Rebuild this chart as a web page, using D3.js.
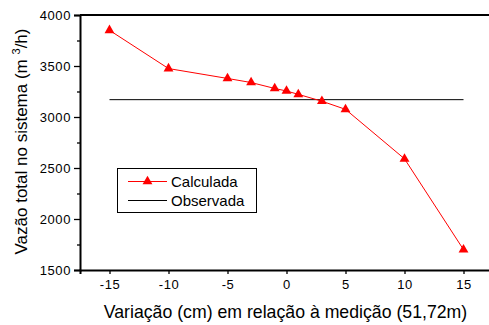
<!DOCTYPE html>
<html>
<head>
<meta charset="utf-8">
<script src="https://cdn.jsdelivr.net/npm/d3@7/dist/d3.min.js"></script>
<style>
  html, body { margin: 0; padding: 0; background: #fff; }
  svg { display: block; }
  text { font-family: Arial, "Liberation Sans", sans-serif; fill: #000; }
</style>
</head>
<body>
<svg id="chart" width="489" height="325"></svg>
<script>
// Variation of the reference level (cm) and the total flow computed for each one
const variacao = [-15, -10, -5, -3, -1, 0, 1, 3, 5, 10, 15];
const calculada = [3850, 3475, 3378, 3338, 3280, 3255, 3222, 3155, 3075, 2590, 1700];
// Measured flow, constant across the variation range
const observadaX = [-15, 15];
const observada = [3170, 3170];
const xTicks = [-15, -10, -5, 0, 5, 10, 15];
const yTicks = [1500, 2000, 2500, 3000, 3500, 4000];
const yMinorTicks = [1750, 2250, 2750, 3250, 3750];

const svg = d3.select("#chart");
const mLeft = 80, mRight = 493, mTop = 15, mBottom = 270;

const x = d3.scaleLinear().domain([-17.5, 17.5]).range([mLeft, mRight]);
const y = d3.scaleLinear().domain([1500, 4000]).range([mBottom, mTop]);

// frame: top and right borders
svg.append("line")
  .attr("x1", mLeft).attr("x2", mRight).attr("y1", mTop).attr("y2", mTop)
  .attr("stroke", "#000").attr("stroke-width", 2);
svg.append("line")
  .attr("x1", mRight).attr("x2", mRight).attr("y1", mTop).attr("y2", mBottom)
  .attr("stroke", "#000").attr("stroke-width", 2);

// y axis
const yAxis = d3.axisLeft(y).tickValues(yTicks).tickSize(6).tickPadding(3).tickFormat(d3.format("d"));
const gy = svg.append("g").attr("transform", `translate(${mLeft},0)`).call(yAxis);
gy.select(".domain").attr("stroke-width", 2);
gy.selectAll(".tick line").attr("stroke-width", 1.3);
gy.selectAll(".tick text").attr("font-size", 13).attr("letter-spacing", 0.6)
  .style("font-family", "Arial, 'Liberation Sans', sans-serif");
const yMinor = d3.axisLeft(y).tickValues(yMinorTicks).tickSize(3).tickFormat("");
const gym = svg.append("g").attr("transform", `translate(${mLeft},0)`).call(yMinor);
gym.select(".domain").remove();
gym.selectAll(".tick line").attr("stroke-width", 1.3);

// x axis
const xAxis = d3.axisBottom(x).tickValues(xTicks).tickSize(4).tickPadding(6).tickFormat(d => d);
const gx = svg.append("g").attr("transform", `translate(0,${mBottom})`).call(xAxis);
gx.select(".domain").attr("stroke-width", 2);
gx.selectAll(".tick line").attr("stroke-width", 1.3);
gx.selectAll(".tick text").attr("font-size", 13).attr("letter-spacing", 0.6)
  .style("font-family", "Arial, 'Liberation Sans', sans-serif");

// observed flow line
const line = d3.line().x(d => x(d[0])).y(d => y(d[1]));
svg.append("path")
  .datum(observadaX.map((v, i) => [v, observada[i]]))
  .attr("d", line).attr("fill", "none").attr("stroke", "#000").attr("stroke-width", 1);

// computed flow series
const pts = variacao.map((v, i) => [v, calculada[i]]);
svg.append("path")
  .datum(pts)
  .attr("d", line).attr("fill", "none").attr("stroke", "#ff0000").attr("stroke-width", 1);
const tri = d3.symbol().type(d3.symbolTriangle).size(42);
svg.selectAll(".mk").data(pts).join("path")
  .attr("class", "mk")
  .attr("d", tri)
  .attr("transform", d => `translate(${x(d[0])},${y(d[1])})`)
  .attr("fill", "#ff0000");

// axis titles
svg.append("text")
  .attr("x", 285.5).attr("y", 318)
  .attr("text-anchor", "middle").attr("font-size", 17.7)
  .text("Variação (cm) em relação à medição (51,72m)");
const yt = svg.append("text")
  .attr("transform", `translate(27,${(mTop + mBottom) / 2 - 1}) rotate(-90)`)
  .attr("text-anchor", "middle").attr("font-size", 17);
yt.append("tspan").text("Vazão total no sistema (m ");
yt.append("tspan").attr("font-size", 11).attr("dy", -7).text("3");
yt.append("tspan").attr("dy", 7).text("/h)");

// legend
const lg = svg.append("g");
lg.append("rect").attr("x", 117.5).attr("y", 168.5).attr("width", 139).attr("height", 44)
  .attr("fill", "#fff").attr("stroke", "#000").attr("stroke-width", 1);
lg.append("line").attr("x1", 128).attr("x2", 167).attr("y1", 181.5).attr("y2", 181.5)
  .attr("stroke", "#ff0000").attr("stroke-width", 1);
lg.append("path").attr("d", tri).attr("transform", "translate(147.5,181.5)").attr("fill", "#ff0000");
lg.append("text").attr("x", 171).attr("y", 187).attr("font-size", 15).text("Calculada");
lg.append("line").attr("x1", 128).attr("x2", 167).attr("y1", 200.5).attr("y2", 200.5)
  .attr("stroke", "#000").attr("stroke-width", 1);
lg.append("text").attr("x", 171).attr("y", 205.5).attr("font-size", 15).text("Observada");
</script>
</body>
</html>
